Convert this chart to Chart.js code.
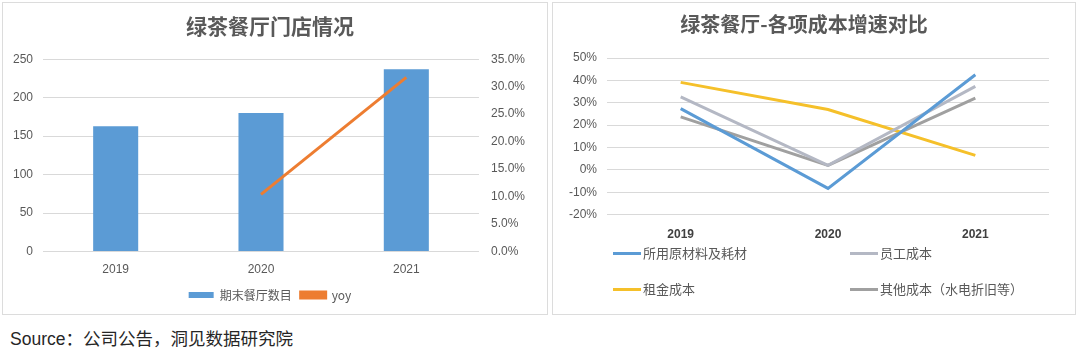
<!DOCTYPE html>
<html>
<head>
<meta charset="utf-8">
<script src="https://cdn.jsdelivr.net/npm/chart.js@4.4.1/dist/chart.umd.min.js"></script>
<style>
  html, body { margin: 0; padding: 0; background: #fff; width: 1080px; height: 351px; overflow: hidden; }
  body { position: relative; font-family: 'Liberation Sans', 'Noto Sans CJK SC', sans-serif; }
  .box { position: absolute; border: 1px solid #dcdcdc; box-sizing: border-box; background: #fff; }
  .cw { position: absolute; left: 0; top: 0; right: 0; bottom: 0; }
  .lg { position: absolute; font-size: 13px; color: #595959; line-height: 16px; white-space: nowrap; font-family: 'Noto Sans CJK SC', sans-serif; }
  .lg i { display: inline-block; width: 28px; height: 3px; vertical-align: middle; margin-right: 2px; position: relative; top: -1px; }
  #src { position: absolute; left: 10px; top: 325px; font-size: 17.5px; color: #262626; font-family: 'Liberation Sans', 'Noto Sans CJK SC', sans-serif; white-space: nowrap; }
</style>
</head>
<body>
<div class="box" id="boxL" style="left:2px; top:2px; width:546px; height:313px;">
  <div class="cw"><canvas id="c1"></canvas></div>
</div>
<div class="box" id="boxR" style="left:552px; top:2px; width:524px; height:313px;">
  <div class="cw"><canvas id="c2"></canvas></div>
</div>
<div id="legR"></div>
<div id="src">Source：公司公告，洞见数据研究院</div>
<script>
// ---- Data: left chart ----
const years = ['2019', '2020', '2021'];
const storeCount = [163, 180, 237];
const storeYoy = [null, 0.104, 0.317];
const storeLabel = '期末餐厅数目';
const yoyLabel = 'yoy';
const leftTitle = '绿茶餐厅门店情况';
const countTicks = [0, 50, 100, 150, 200, 250];
const yoyTicks = [0, 0.05, 0.10, 0.15, 0.20, 0.25, 0.30, 0.35];

// ---- Data: right chart ----
const rightTitle = '绿茶餐厅-各项成本增速对比';
const costNames = ['所用原材料及耗材', '员工成本', '租金成本', '其他成本（水电折旧等）'];
const rawMaterial = [0.274, -0.083, 0.425];
const staffCost = [0.326, 0.02, 0.373];
const rentCost = [0.391, 0.27, 0.065];
const otherCost = [0.237, 0.02, 0.321];
const growthTicks = [-0.2, -0.1, 0, 0.1, 0.2, 0.3, 0.4, 0.5];

const FONT = "'Liberation Sans', 'Noto Sans CJK SC', sans-serif";
const CJK = "'Noto Sans CJK SC', sans-serif";
const GRAY = '#595959';
const GRID = '#d9d9d9';

new Chart(document.getElementById('c1'), {
  type: 'bar',
  data: {
    labels: years,
    datasets: [
      { type: 'bar', label: storeLabel, data: storeCount, backgroundColor: '#5b9bd5',
        barPercentage: 0.31, categoryPercentage: 1, yAxisID: 'y', order: 1 },
      { type: 'line', label: yoyLabel, data: storeYoy, borderColor: '#ed7d31', backgroundColor: '#ed7d31',
        borderWidth: 3, pointRadius: 0, yAxisID: 'y1', order: 0, spanGaps: false }
    ]
  },
  options: {
    responsive: true, maintainAspectRatio: false, animation: false,
    layout: { padding: { left: 0, right: 10, bottom: 3 } },
    plugins: {
      title: { display: true, text: leftTitle, color: GRAY, font: { family: CJK, size: 21, weight: 'bold' },
        padding: { top: 10, bottom: 21 } },
      legend: { position: 'bottom',
        labels: { boxWidth: 25, boxHeight: 6, color: GRAY, font: { family: CJK, size: 12 }, padding: 9,
          sort: (a, b) => a.datasetIndex - b.datasetIndex } },
      tooltip: { enabled: false }
    },
    scales: {
      x: { grid: { display: false }, border: { display: false },
        ticks: { color: GRAY, font: { family: FONT, size: 12 }, padding: 3 } },
      y: { position: 'left', min: 0, max: 250,
        afterBuildTicks: s => { s.ticks = countTicks.map(v => ({ value: v })); },
        grid: { color: GRID, drawTicks: false }, border: { display: false },
        ticks: { color: GRAY, font: { family: FONT, size: 12 }, padding: 10 } },
      y1: { position: 'right', min: 0, max: 0.35,
        afterBuildTicks: s => { s.ticks = yoyTicks.map(v => ({ value: v })); },
        grid: { display: false, drawTicks: false }, border: { display: false },
        ticks: { color: GRAY, font: { family: FONT, size: 12 }, padding: 12,
          callback: v => (v * 100).toFixed(1) + '%' } }
    }
  }
});

const costColors = ['#5b9bd5', '#b4b8c4', '#f5c02a', '#a0a0a0'];
const costData = [rawMaterial, staffCost, rentCost, otherCost];

new Chart(document.getElementById('c2'), {
  type: 'line',
  data: {
    labels: years,
    datasets: costNames.map((n, i) => ({
      label: n, data: costData[i], borderColor: costColors[i], backgroundColor: costColors[i],
      borderWidth: 3, pointRadius: 0, tension: 0
    }))
  },
  options: {
    responsive: true, maintainAspectRatio: false, animation: false,
    layout: { padding: { left: 6, right: 26, bottom: 67 } },
    plugins: {
      title: { display: true, text: rightTitle, color: GRAY, font: { family: CJK, size: 20, weight: 'bold' },
        padding: { top: 9, bottom: 22 } },
      legend: { display: false },
      tooltip: { enabled: false }
    },
    scales: {
      x: { offset: true, grid: { display: false }, border: { display: false },
        ticks: { color: '#404040', font: { family: FONT, size: 12, weight: 'bold' }, padding: 5 } },
      y: { min: -0.2, max: 0.5,
        afterBuildTicks: s => { s.ticks = growthTicks.map(v => ({ value: v })); },
        grid: { color: GRID, drawTicks: false }, border: { display: false },
        ticks: { color: GRAY, font: { family: FONT, size: 12 }, padding: 10,
          callback: v => Math.round(v * 100) + '%' } }
    }
  }
});

// HTML legend for right chart (2 columns x 2 rows)
const legPos = [[613, 245], [850, 245], [613, 281], [850, 281]];
const legR = document.getElementById('legR');
costNames.forEach((n, i) => {
  const d = document.createElement('div');
  d.className = 'lg';
  d.style.left = legPos[i][0] + 'px';
  d.style.top = legPos[i][1] + 'px';
  d.innerHTML = '<i style="background:' + costColors[i] + '"></i>' + n;
  legR.appendChild(d);
});
</script>
</body>
</html>
